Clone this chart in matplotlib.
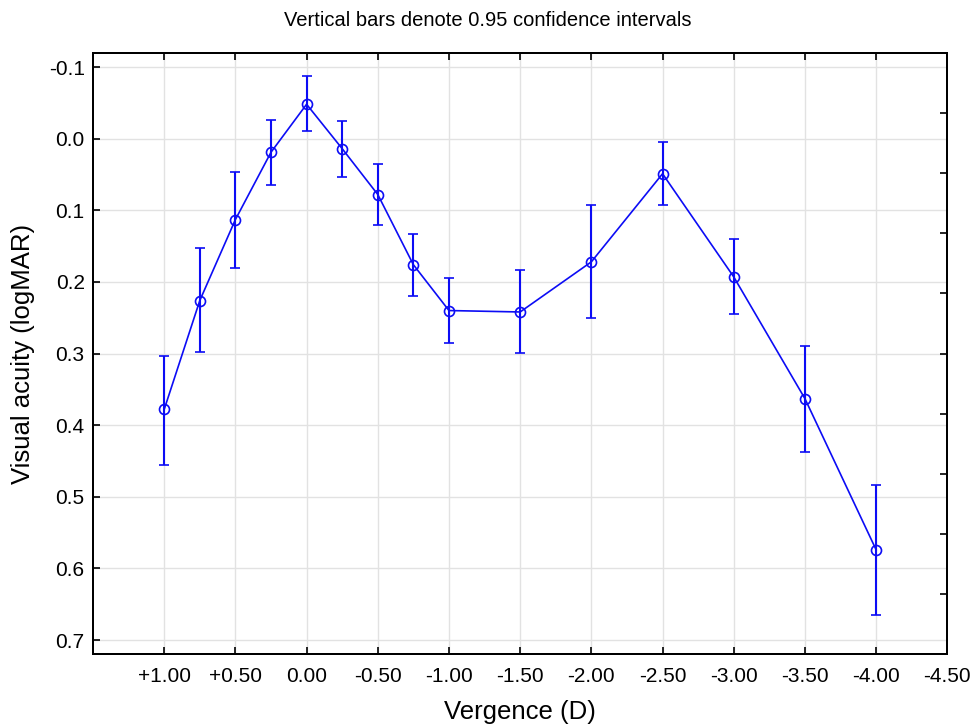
import matplotlib
matplotlib.use('Agg')
import matplotlib.pyplot as plt
import numpy as np

plt.rcParams.update({
    'font.family': ['Liberation Sans', 'DejaVu Sans'],
    'axes.linewidth': 1.4,
    'axes.edgecolor': 'black',
})

# Vergence (D) and visual acuity (logMAR) with 0.95 CI bounds
vergence = [1.00, 0.75, 0.50, 0.25, 0.00, -0.25, -0.50, -0.75,
            -1.00, -1.50, -2.00, -2.50, -3.00, -3.50, -4.00]
acuity = [0.378, 0.226, 0.113, 0.019, -0.048, 0.014, 0.078, 0.176,
          0.240, 0.242, 0.172, 0.049, 0.193, 0.363, 0.574]
ci_low = [0.304, 0.153, 0.046, -0.026, -0.087, -0.025, 0.035, 0.133,
          0.194, 0.184, 0.093, 0.005, 0.140, 0.289, 0.484]
ci_high = [0.455, 0.298, 0.181, 0.065, -0.010, 0.053, 0.121, 0.219,
           0.286, 0.299, 0.250, 0.093, 0.245, 0.438, 0.665]

x_ticks = [1.0, 0.5, 0.0, -0.5, -1.0, -1.5, -2.0, -2.5, -3.0, -3.5, -4.0, -4.5]
y_ticks = [-0.1, 0.0, 0.1, 0.2, 0.3, 0.4, 0.5, 0.6, 0.7]

acuity = np.array(acuity)
yerr = np.vstack([acuity - np.array(ci_low), np.array(ci_high) - acuity])

fig = plt.figure(figsize=(9.75, 7.28), dpi=100)
ax = fig.add_axes([0.0954, 0.1012, 0.8762, 0.8264])

ax.errorbar(vergence, acuity, yerr=yerr, color='#0c0cf5', lw=1.2,
            marker='o', markersize=7.2, markerfacecolor='none',
            markeredgecolor='#0c0cf5', markeredgewidth=1.2,
            elinewidth=1.5, capsize=3.5, capthick=1.5, zorder=3)

ax.set_xlim(1.5, -4.5)
ax.set_ylim(0.72, -0.12)
ax.set_xticks(x_ticks)
ax.set_xticklabels([f'{v:+.2f}' if v > 0 else f'{v:.2f}' for v in x_ticks])
ax.set_yticks(y_ticks)
ax.set_yticklabels([f'{v:.1f}' for v in y_ticks])

ax.grid(True, color='#e2e2e2', lw=1.0, zorder=0)
ax.set_axisbelow(True)
ax.tick_params(axis='x', direction='in', length=5, width=1.2,
               labelsize=15, top=True, pad=9)
ax.tick_params(axis='y', direction='in', length=5, width=1.2,
               labelsize=15, right=False, pad=6)

# right axis: unlabelled ticks splitting the range into 10 parts
ax2 = ax.twinx()
ax2.set_ylim(ax.get_ylim())
ax2.set_yticks(np.linspace(0.72, -0.12, 11)[1:-1])
ax2.tick_params(axis='y', direction='in', length=5, width=1.2,
                labelright=False)

ax.set_xlabel('Vergence (D)', fontsize=18.5, labelpad=10)
ax.set_ylabel('Visual acuity (logMAR)', fontsize=18.5, labelpad=10)
fig.suptitle('Vertical bars denote 0.95 confidence intervals',
             fontsize=14.5, y=0.985)

fig.savefig('out.png', dpi=100)
